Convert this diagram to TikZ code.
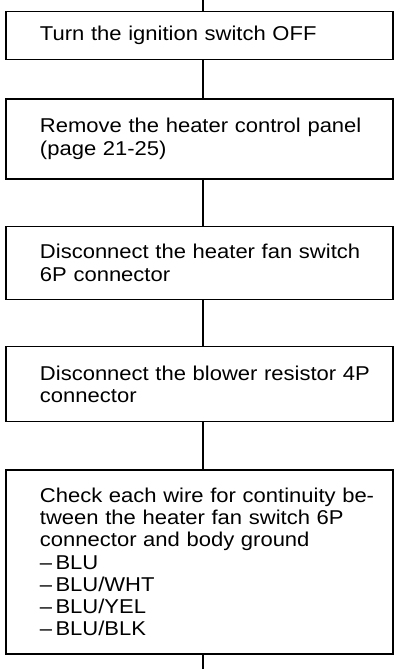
\documentclass[tikz,border=0pt]{standalone}
\usepackage{fontspec}
\newfontfamily\manualfont{Liberation Sans}[FakeStretch=1.1]
\usetikzlibrary{positioning}

\begin{document}
\begin{tikzpicture}[
			x=1pt,y=1pt,
			node distance=44pt,
			stepbox/.style={
				draw=black,
				line width=1.3pt,
				inner xsep=17pt,
				inner ysep=6pt,
				text width=353pt,
				execute at begin node={\raggedright\leftskip=17pt\relax},
				font=\manualfont\fontsize{20}{22.3}\selectfont
			},
			link/.style={line width=1.2pt}
			]
			\useasboundingbox (0,0) rectangle (400,-669);
			\coordinate (top) at (203,0);
			\coordinate (bottom) at (203,-669);
			\node[stepbox,minimum height=48pt,anchor=north] (off) at (199.5,-11) {Turn the ignition switch OFF};
			\node[stepbox,minimum height=80pt,below=38pt of off] (panel) {Remove the heater control panel\\(page 21-25)};
			\node[stepbox,minimum height=73pt,below=46pt of panel] (fansw) {Disconnect the heater fan switch\\6P connector};
			\node[stepbox,minimum height=75pt,below=46pt of fansw] (resist) {Disconnect the blower resistor 4P\\connector};
			\node[stepbox,minimum height=184pt,below=47pt of resist] (check) {Check each wire for continuity be-\\tween the heater fan switch 6P\\connector and body ground\\–\,BLU\\–\,BLU/WHT\\–\,BLU/YEL\\–\,BLU/BLK};
			\draw[link](top)--(off.north -| top);
			\draw[link](off.south -| top)--(panel.north -| top);
			\draw[link](panel.south -| top)--(fansw.north -| top);
			\draw[link](fansw.south -| top)--(resist.north -| top);
			\draw[link](resist.south -| top)--(check.north -| top);
			\draw[link](check.south -| top)--(bottom);
		\end{tikzpicture}
\end{document}
